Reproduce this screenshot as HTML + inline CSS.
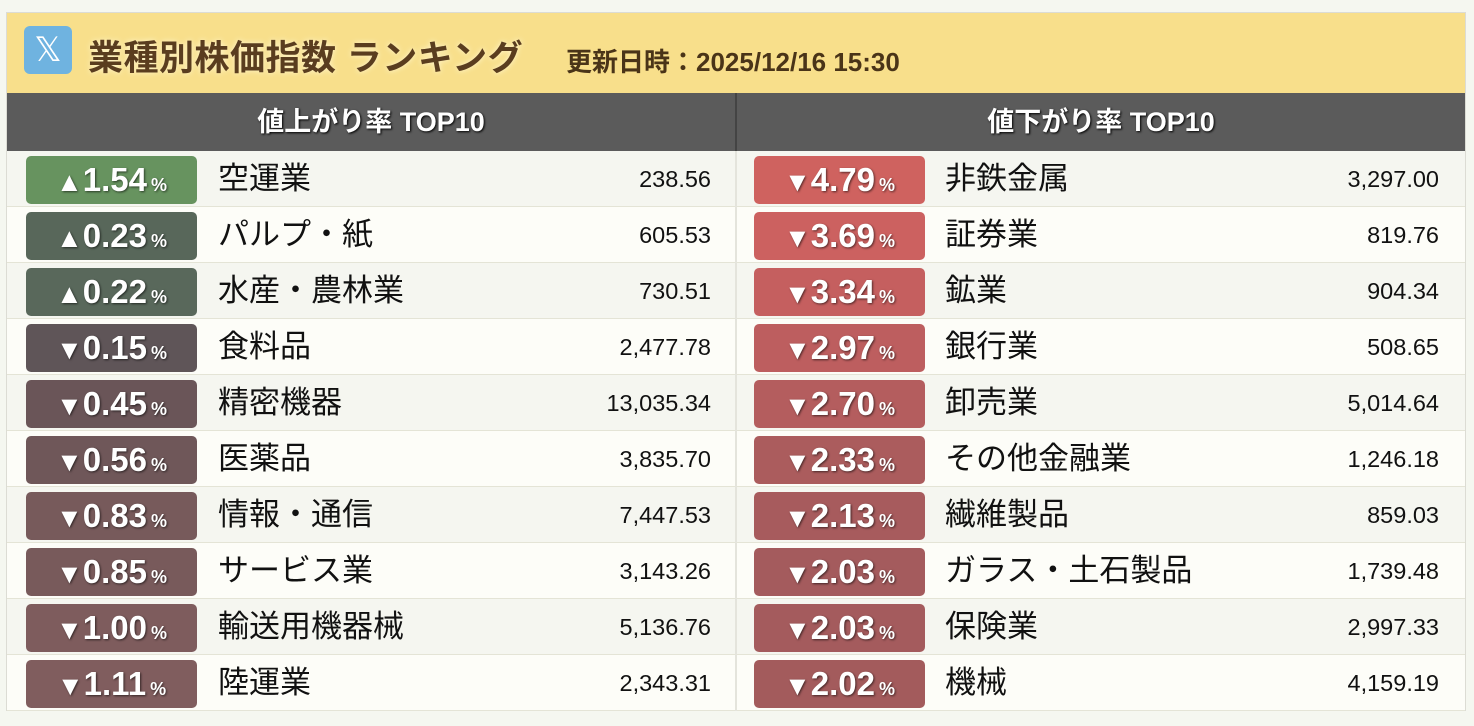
<!DOCTYPE html>
<html><head><meta charset="utf-8"><style>
*{margin:0;padding:0;box-sizing:border-box}
body{width:1474px;height:726px;background:#f5f7f0;font-family:"Liberation Sans","Noto Sans CJK JP",sans-serif;position:relative;overflow:hidden}
#frame{position:absolute;left:6px;top:12px;width:1460px;height:699px;border:1px solid #dcdcd4;background:#fbfbf6}
#hdr{position:absolute;left:0;top:0;width:1458px;height:80px;background:#f8df8b}
#xi{position:absolute;left:17px;top:13px;width:48px;height:48px;border-radius:6px;background:#6fb3e0;color:#fff;font-size:34px;text-align:center;line-height:48px;font-family:"DejaVu Sans",sans-serif}
#title{position:absolute;left:81px;top:17px;font-size:35px;font-weight:bold;color:#5a3d1f;text-shadow:0 0 6px #fff6d0;white-space:nowrap;letter-spacing:0.5px}
#upd{position:absolute;left:559px;top:29px;font-size:26px;font-weight:bold;color:#4a3418;white-space:nowrap}
.colh{position:absolute;top:80px;height:58px;background:#5b5b5b;color:#fff;font-size:27px;font-weight:bold;text-align:center;line-height:58px;text-shadow:1px 1px 2px #000}
.row{position:absolute;height:56px;border-bottom:1px solid #e4e4d6}
.b{position:absolute;left:19px;top:5px;width:171px;height:48px;border-radius:5px;color:#fff;font-weight:bold;font-size:33px;text-align:center;line-height:48px;text-shadow:1px 1px 2px rgba(0,0,0,.6);white-space:nowrap}
.b i{font-style:normal;font-size:27px;margin-right:0}
.b small{font-size:18px;margin-left:4px}
.n{position:absolute;left:211px;top:0;line-height:56px;font-size:31px;color:#111;white-space:nowrap}
.v{position:absolute;right:24px;top:0;line-height:56px;font-size:23.5px;color:#111}
.R .b{left:17px}.R .n{left:208px}.R .v{right:26px}
</style></head><body>
<div id="frame">
<div id="hdr"><div id="xi">𝕏</div><div id="title">業種別株価指数 ランキング</div><div id="upd">更新日時：2025/12/16 15:30</div></div>
<div class="colh" style="left:0;width:728px">値上がり率 TOP10</div>
<div class="colh" style="left:728px;width:730px;border-left:2px solid #444">値下がり率 TOP10</div>
<div style="position:absolute;left:728px;top:138px;width:2px;height:560px;background:#e4e4dc"></div>
<div id="rows"></div>
</div>
<script>
var L=[["▲","1.54","空運業","238.56","#67935f"],["▲","0.23","パルプ・紙","605.53","#58675a"],["▲","0.22","水産・農林業","730.51","#59685b"],["▼","0.15","食料品","2,477.78","#5f5558"],["▼","0.45","精密機器","13,035.34","#6a5558"],["▼","0.56","医薬品","3,835.70","#6f5759"],["▼","0.83","情報・通信","7,447.53","#775a5b"],["▼","0.85","サービス業","3,143.26","#785a5b"],["▼","1.00","輸送用機器械","5,136.76","#7e5c5d"],["▼","1.11","陸運業","2,343.31","#805d5e"]];
var R=[["▼","4.79","非鉄金属","3,297.00","#cf625f"],["▼","3.69","証券業","819.76","#cc6160"],["▼","3.34","鉱業","904.34","#c55f5f"],["▼","2.97","銀行業","508.65","#bd5e5f"],["▼","2.70","卸売業","5,014.64","#b45d5e"],["▼","2.33","その他金融業","1,246.18","#ab5c5d"],["▼","2.13","繊維製品","859.03","#a75b5d"],["▼","2.03","ガラス・土石製品","1,739.48","#a45b5d"],["▼","2.03","保険業","2,997.33","#a45b5d"],["▼","2.02","機械","4,159.19","#a35b5c"]];
var h="";
[[L,0,''],[R,730,' R']].forEach(function(p){p[0].forEach(function(d,i){
h+='<div class="row'+p[2]+'" style="left:'+p[1]+'px;top:'+(138+i*56)+'px;width:728px;background:'+(i%2?'#fdfdf8':'#f5f6f0')+'"><div class="b" style="background:'+d[4]+'"><i>'+d[0]+'</i>'+d[1]+'<small>%</small></div><div class="n">'+d[2]+'</div><div class="v">'+d[3]+'</div></div>';});});
document.getElementById('rows').innerHTML=h;
</script>
</body></html>
